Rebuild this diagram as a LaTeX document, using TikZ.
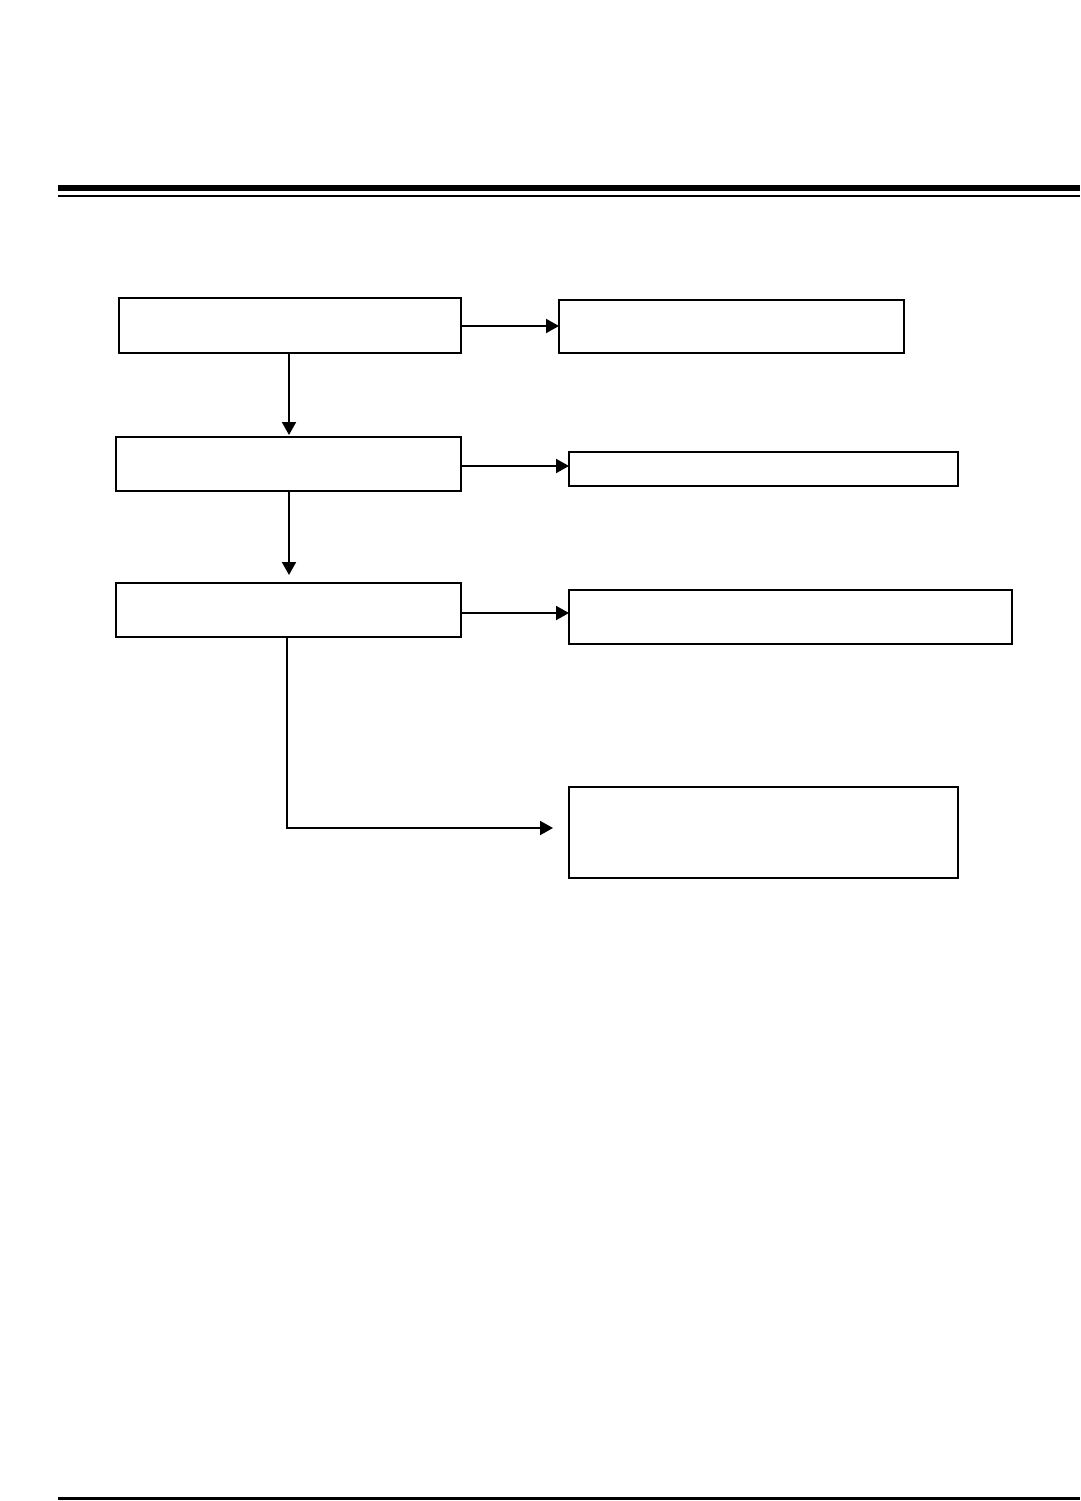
\documentclass[tikz,border=0pt]{standalone}
\usetikzlibrary{arrows.meta}
\begin{document}
\begin{tikzpicture}[x=1pt,y=-1pt,
  flowbox/.style={draw=black,line width=2pt,fill=white,inner sep=0pt,outer sep=0pt,rectangle},
  conn/.style={line width=2pt,-{Triangle[length=13pt,width=14pt]}}]
\useasboundingbox (0,0) rectangle (1080,1501);
\fill[white] (0,0) rectangle (1080,1501);
% header and footer rules
\fill[black] (58,184.5) rectangle (1080,191);
\fill[black] (58,194.5) rectangle (1080,196.8);
\fill[black] (58,1497.2) rectangle (1080,1500.2);
% boxes
\node[flowbox,minimum width=342pt,minimum height=55pt] (A) at (290,325.5) {};
\node[flowbox,minimum width=345pt,minimum height=53pt] (B) at (731.5,326.5) {};
\node[flowbox,minimum width=345pt,minimum height=54pt] (C) at (288.5,464) {};
\node[flowbox,minimum width=389pt,minimum height=34pt] (D) at (763.5,469) {};
\node[flowbox,minimum width=345pt,minimum height=54pt] (E) at (288.5,610) {};
\node[flowbox,minimum width=443pt,minimum height=54pt] (F) at (790.5,617) {};
\node[flowbox,minimum width=389pt,minimum height=91pt] (G) at (763.5,832.5) {};
% connectors
\draw[conn] ([yshift=-0.5pt]A.east) -- ([yshift=-0.5pt]A.east -| B.west);
\draw[conn,shorten >=2pt] ([xshift=-1pt]A.south) -- ([xshift=-1pt]A.south |- C.north);
\draw[conn] ([yshift=-2pt]C.east) -- ([yshift=-2pt]C.east -| D.west);
\draw[conn,shorten >=8pt] ([xshift=0.5pt]C.south) -- ([xshift=0.5pt]C.south |- E.north);
\draw[conn] ([yshift=-3pt]E.east) -- ([yshift=-3pt]E.east -| F.west);
\draw[conn,shorten >=16pt] ([xshift=-1.5pt]E.south) |- ([yshift=4.5pt]G.west);
\end{tikzpicture}
\end{document}
